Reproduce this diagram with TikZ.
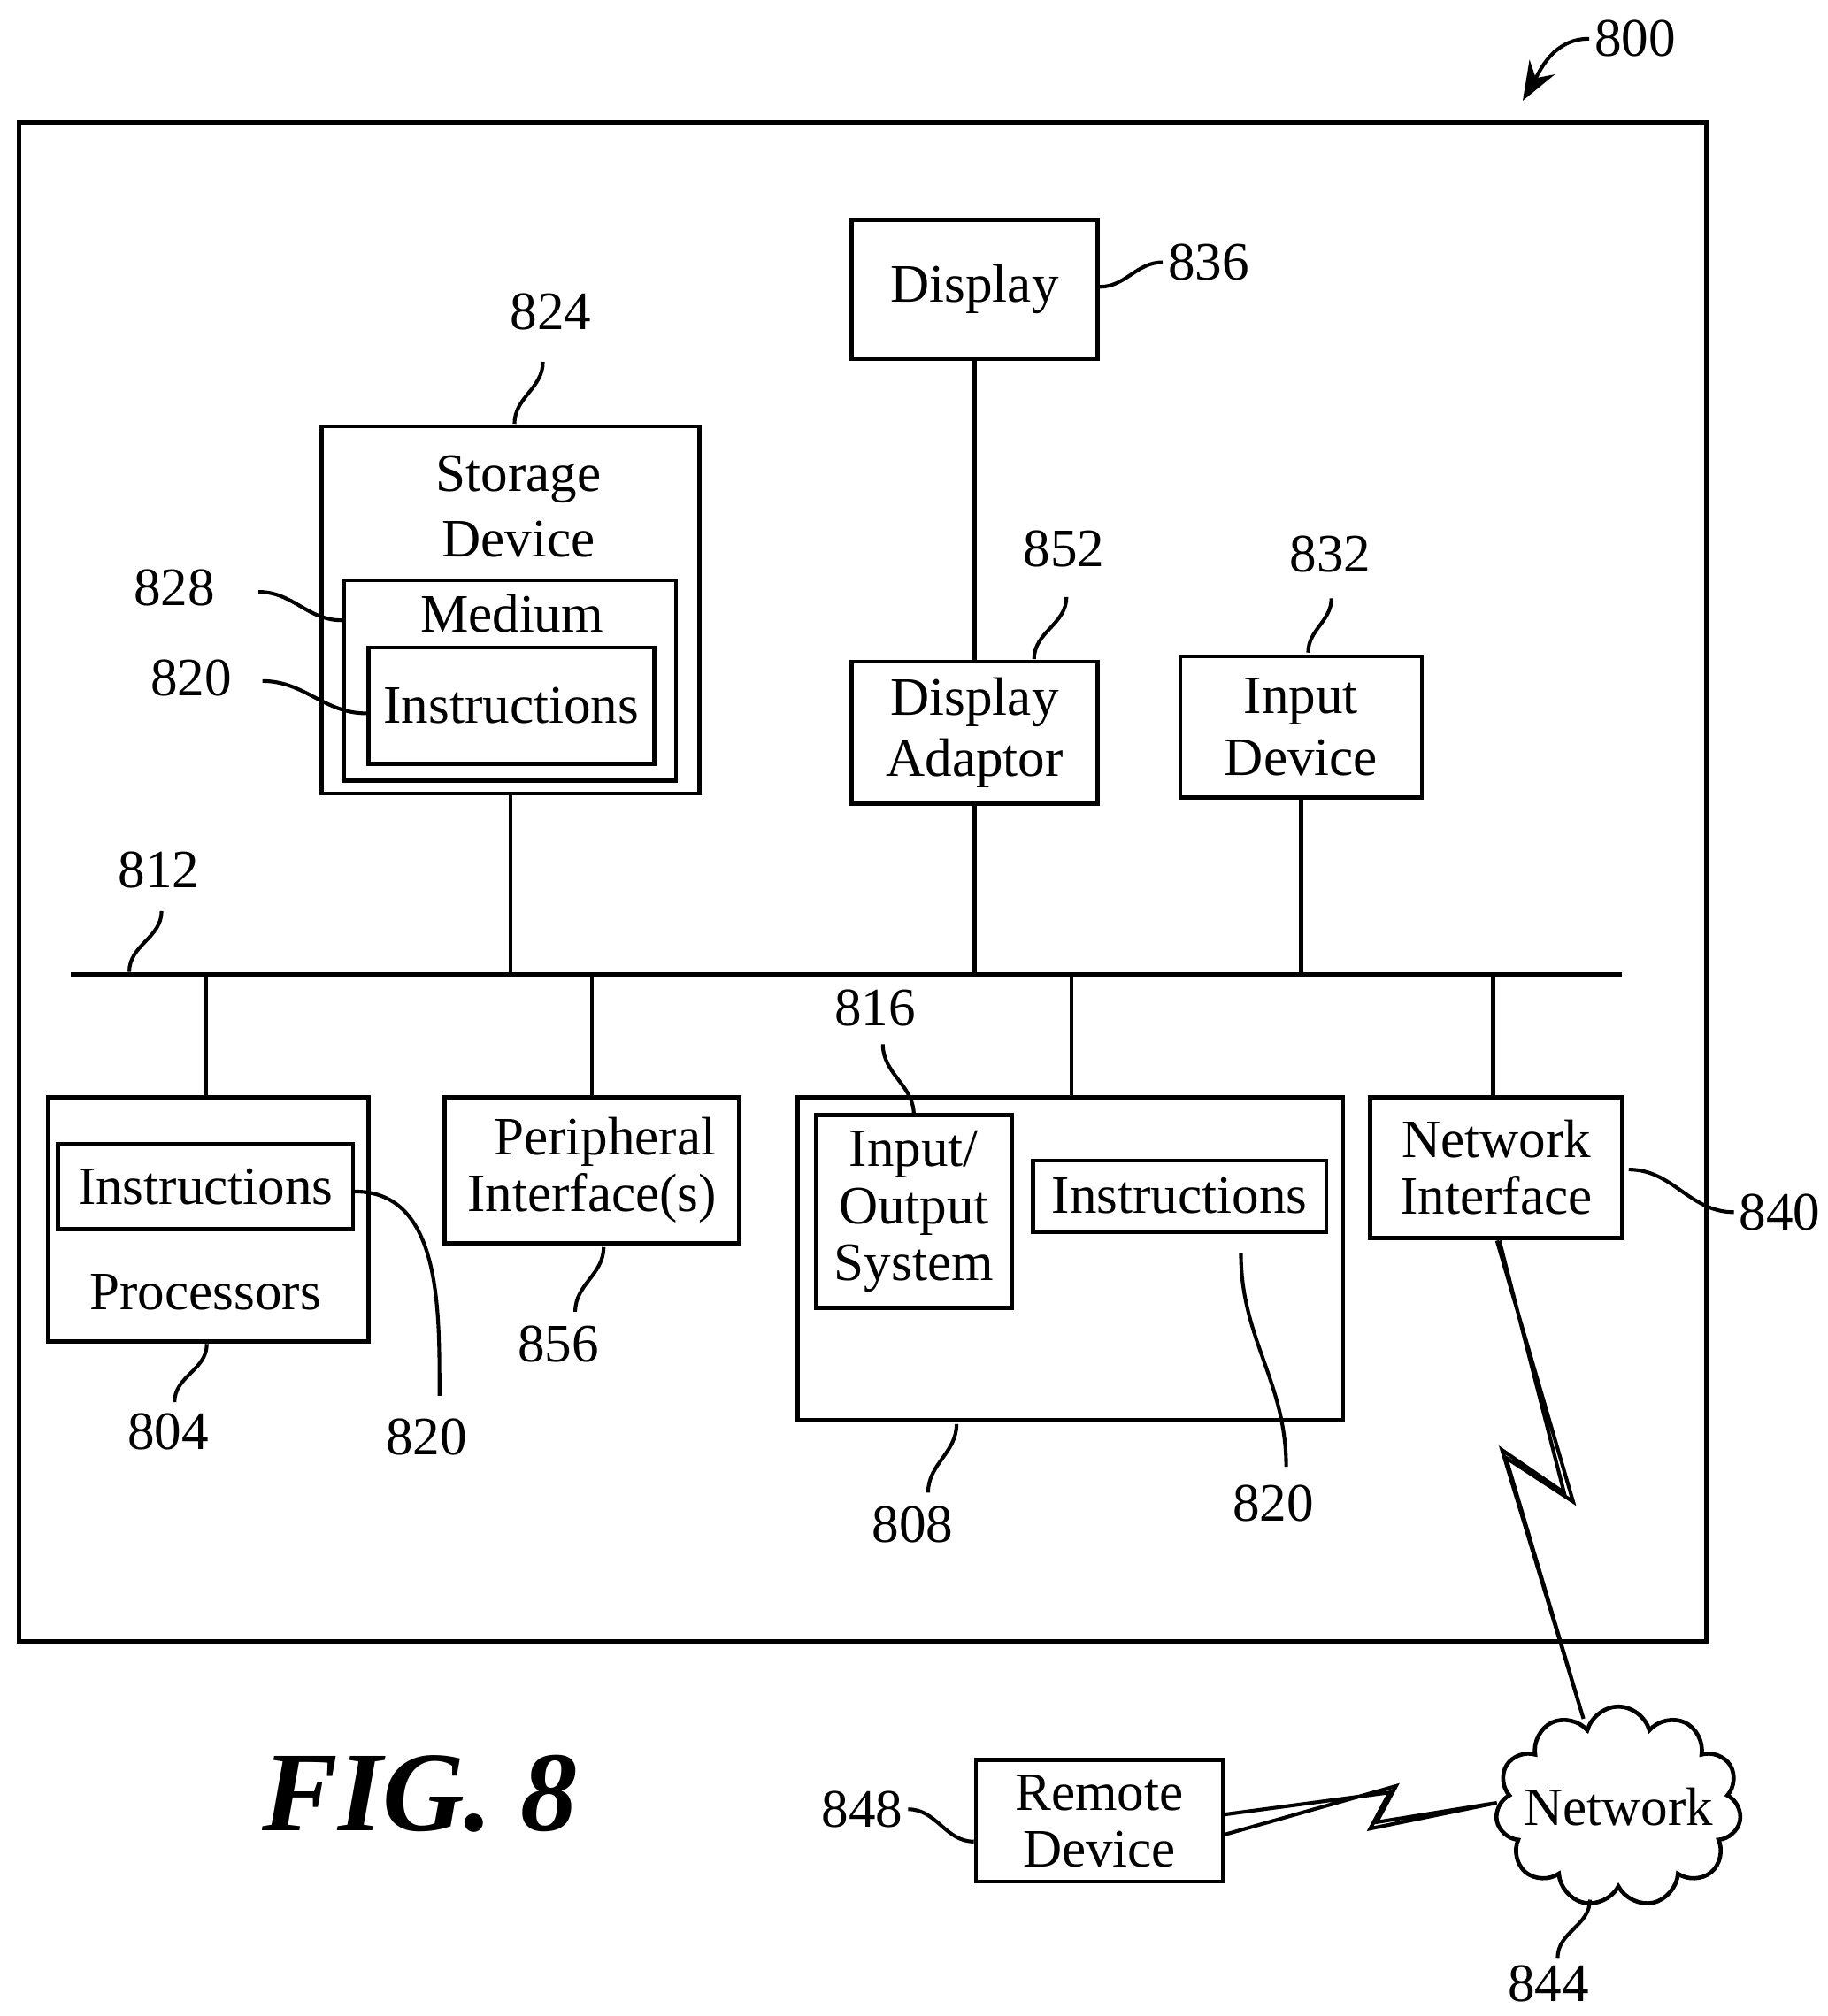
\documentclass[tikz,border=0pt]{standalone}
\usepackage{fontspec}
\setmainfont{Liberation Serif}
\usetikzlibrary{positioning,calc,arrows.meta,shapes.symbols}
\tikzset{font=\fontsize{11.9}{14.5}\selectfont}

\begin{document}
\begin{tikzpicture}[x=1cm,y=1cm,
  box/.style={draw, line width=0.9pt, align=center, inner sep=1pt},
  lead/.style={line width=0.8pt},
  lbl/.style={inner sep=1pt}]
	\useasboundingbox (0,0) rectangle (14.14,-15.6);
	\draw[line width=1pt] (0.15,-0.95) rectangle (13.2,-12.7);

	% boxes
	\node[box, minimum width=1.90cm, minimum height=1.08cm] (disp) at (7.54,-2.24) {Display};
	\node[box, minimum width=2.92cm, minimum height=2.84cm] (sto) at (3.95,-4.72) {};
	\node[align=center, inner sep=0pt] (stot) at (4.01,-3.92) {Storage\\Device};
	\node[box, minimum width=2.57cm, minimum height=1.55cm] (med) at (3.945,-5.265) {};
	\node[inner sep=0pt] (medt) at (3.96,-4.75) {Medium};
	\node[box, minimum width=2.21cm, minimum height=0.90cm] (ins1) at (3.955,-5.46) {Instructions};
	\node[box, minimum width=1.90cm, minimum height=1.10cm] (adap) at (7.54,-5.67) {Display\\[-1pt]Adaptor};
	\node[box, minimum width=1.87cm, minimum height=1.09cm] (inp) at (10.065,-5.625) {Input\\[-1pt]Device};

	\node[box, minimum width=2.48cm, minimum height=1.89cm] (proc) at (1.61,-9.435) {};
	\node[box, minimum width=2.28cm, minimum height=0.66cm] (ins2) at (1.59,-9.18) {Instructions};
	\node[inner sep=0pt] (proct) at (1.59,-10.0) {Processors};
	\node[box, minimum width=2.28cm, minimum height=1.13cm] (peri) at (4.58,-9.055) {\hspace*{2mm}Peripheral\\[-2pt]Interface(s)};
	\node[box, minimum width=4.22cm, minimum height=2.50cm] (mem) at (8.28,-9.74) {};
	\node[box, minimum width=1.52cm, minimum height=1.49cm] (io) at (7.07,-9.375) {Input/\\[-2pt]Output\\[-2pt]System};
	\node[box, minimum width=2.27cm, minimum height=0.55cm] (ins3) at (9.125,-9.255) {Instructions};
	\node[box, minimum width=1.95cm, minimum height=1.09cm] (ni) at (11.575,-9.035) {Network\\[-2pt]Interface};
	\node[box, minimum width=1.91cm, minimum height=0.94cm] (rem) at (8.505,-14.09) {Remote\\[-2pt]Device};
	\node[draw, line width=0.9pt, cloud, cloud puffs=11, aspect=1.35, minimum width=1.9cm, minimum height=1.4cm, inner sep=-4pt] (net) at (12.52,-13.98) {Network};

	% bus
	\coordinate (busL) at (0.55,-7.54);
	\coordinate (busR) at (12.55,-7.54);
	\draw[line width=0.9pt] (busL) -- (busR);
	\draw[line width=0.9pt] (disp) -- (adap);
	\draw[line width=0.9pt] (sto) -- (sto |- busL);
	\draw[line width=0.9pt] (adap) -- (adap |- busL);
	\draw[line width=0.9pt] (inp) -- (inp |- busL);
	\draw[line width=0.9pt] (proc.north -| 1.59,0) -- (1.59,-7.54);
	\draw[line width=0.9pt] (peri.north -| 4.58,0) -- (4.58,-7.54);
	\draw[line width=0.9pt] (mem.north -| 8.29,0) -- (8.29,-7.54);
	\draw[line width=0.9pt] (ni.north -| 11.55,0) -- (11.55,-7.54);

	% wireless links
	\draw[line width=0.8pt] (11.58,-9.6) -- (12.17,-11.62) -- (11.65,-11.28) -- (12.25,-13.3)
		-- (11.62,-11.22) -- (12.1,-11.55) -- (11.6,-9.6);
	\draw[line width=0.8pt] (rem.east) ++(0,0.05) -- (10.75,-13.87) -- (10.6,-14.15) -- (11.58,-13.95)
		-- (10.65,-14.1) -- (10.8,-13.82) -- (9.46,-14.2);

	% reference labels
	\node[lbl] (n800) at (12.65,-0.3) {800};
	\draw[lead, -{Stealth[length=3mm]}] (n800.west) to[out=180,in=60] (11.78,-0.78);
	\node[lbl] (n836) at (9.35,-2.03) {836};
	\draw[lead] (disp.east |- 0,-2.22) to[out=0,in=180] (n836.west);
	\node[lbl] (n824) at (4.26,-2.41) {824};
	\draw[lead] (3.98,-3.28) to[out=90,in=-90] (4.2,-2.8);
	\node[lbl] (n828) at (1.35,-4.55) {828};
	\draw[lead] (2.0,-4.58) to[out=0,in=180] (med.west |- 0,-4.8);
	\node[lbl] (n820a) at (1.48,-5.25) {820};
	\draw[lead] (2.03,-5.27) to[out=0,in=180] (ins1.west |- 0,-5.52);
	\node[lbl] (n852) at (8.23,-4.25) {852};
	\draw[lead] (8.0,-5.1) to[out=90,in=-90] (8.25,-4.62);
	\node[lbl] (n832) at (10.29,-4.29) {832};
	\draw[lead] (10.12,-5.05) to[out=90,in=-90] (10.3,-4.63);
	\node[lbl] (n812) at (1.23,-6.73) {812};
	\draw[lead] (1.0,-7.52) to[out=90,in=-90] (1.25,-7.05);
	\node[lbl] (n804) at (1.30,-11.08) {804};
	\draw[lead] (1.6,-10.4) to[out=-90,in=90] (1.35,-10.85);
	\node[lbl] (n820b) at (3.30,-11.12) {820};
	\draw[lead] (ins2.east |- 0,-9.22) to[out=0,in=90] (3.4,-10.8);
	\node[lbl] (n856) at (4.32,-10.40) {856};
	\draw[lead] (4.67,-9.65) to[out=-90,in=90] (4.45,-10.15);
	\node[lbl] (n816) at (6.77,-7.80) {816};
	\draw[lead] (7.07,-8.63) to[out=90,in=-90] (6.83,-8.08);
	\node[lbl] (n808) at (7.06,-11.80) {808};
	\draw[lead] (7.4,-11.02) to[out=-90,in=90] (7.18,-11.55);
	\node[lbl] (n820c) at (9.85,-11.63) {820};
	\draw[lead] (9.6,-9.7) to[out=-90,in=90] (9.95,-11.35);
	\node[lbl] (n840) at (13.77,-9.38) {840};
	\draw[lead] (12.6,-9.05) to[out=0,in=180] (n840.west);
	\node[lbl] (n848) at (6.67,-14.0) {848};
	\draw[lead] (n848.east) to[out=0,in=180] (rem.west |- 0,-14.25);
	\node[lbl] (n844) at (11.98,-15.35) {844};
	\draw[lead] (12.3,-14.7) to[out=-90,in=90] (12.05,-15.15);

	\node[font=\fontsize{25}{28}\selectfont\bfseries\itshape] (fig) at (3.25,-13.88) {FIG. 8};
\end{tikzpicture}
\end{document}
